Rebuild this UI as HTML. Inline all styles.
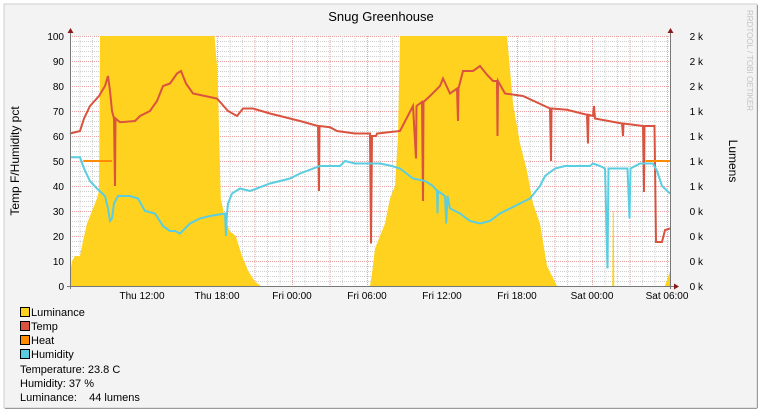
<!DOCTYPE html>
<html><head><meta charset="utf-8"><style>
html,body{margin:0;padding:0;background:#fff;}
svg{display:block;font-family:"Liberation Sans",sans-serif;}
</style></head><body>
<svg id="chart" width="762" height="419" viewBox="0 0 762 419">
<rect x="0" y="0" width="762" height="419" fill="#ffffff"/>
<rect x="4" y="4" width="753" height="404" fill="#f3f3f3" stroke="#cfcfcf" stroke-width="1"/>
<line x1="5" y1="408.5" x2="757" y2="408.5" stroke="#9a9a9a"/>
<line x1="757.5" y1="5" x2="757.5" y2="408" stroke="#9a9a9a"/>
<text x="381" y="21" font-size="13" text-anchor="middle" fill="#000">Snug Greenhouse</text>
<text transform="translate(19,161) rotate(-90)" font-size="12" text-anchor="middle">Temp F/Humidity pct</text>
<text transform="translate(729,161) rotate(90)" font-size="12" text-anchor="middle">Lumens</text>
<text transform="translate(747,10) rotate(90)" font-size="8" fill="#c4c4c4">RRDTOOL / TOBI OETIKER</text>
<rect x="70" y="36" width="600" height="250" fill="#ffffff"/>
<g id="grid"></g>
<g id="marks"></g>
<g id="axes"></g>
<g id="legend" font-size="11">
<rect x="20.5" y="307.5" width="9" height="9" fill="#ffd21f" stroke="#000"/>
<text x="31" y="316">Luminance</text>
<rect x="20.5" y="321.5" width="9" height="9" fill="#d9533f" stroke="#000"/>
<text x="31" y="330">Temp</text>
<rect x="20.5" y="335.5" width="9" height="9" fill="#ff8c00" stroke="#000"/>
<text x="31" y="344">Heat</text>
<rect x="20.5" y="349.5" width="9" height="9" fill="#5bcde0" stroke="#000"/>
<text x="31" y="358">Humidity</text>
<text x="20" y="373">Temperature: 23.8 C</text>
<text x="20" y="387">Humidity: 37 %</text>
<text x="20" y="401" xml:space="preserve">Luminance:    44 lumens</text>
</g>
</svg>
<script>
// hours since Thu 00:00
const xLabels = ["Thu 12:00","Thu 18:00","Fri 00:00","Fri 06:00","Fri 12:00","Fri 18:00","Sat 00:00","Sat 06:00"];
const xLabelHours = [12,18,24,30,36,42,48,54];
const yTicks = [0,10,20,30,40,50,60,70,80,90,100];
const rightTickLabels = ["0 k","0 k","0 k","0 k","1 k","1 k","1 k","1 k","2 k","2 k","2 k"];
const tempHours = [
 6.24,7.04,7.36,7.84,8.56,9.04,9.28,9.44,9.6,9.76,9.84,9.88,
 10.24,11.44,11.84,12.64,13.2,13.68,14.24,14.8,15.12,15.52,16.08,17.04,
 18.0,18.88,19.6,20.08,20.88,22.24,24.64,26.08,26.16,26.2,27.04,27.6,
 29.04,30.24,30.32,30.4,30.72,30.8,32.64,33.68,33.92,33.96,34.4,34.48,
 34.52,35.04,35.84,36.08,36.64,37.2,37.28,37.32,37.68,38.48,39.04,39.6,
 40.08,40.4,40.44,40.48,41.04,42.48,44.64,44.72,44.76,46.0,47.6,47.68,
 47.72,48.08,48.16,48.24,50.4,50.48,50.52,52.08,52.16,52.2,53.0,53.12,
 53.6,53.84,54.24];
const tempValues = [
 61,62,67,72,76,80,84,78,70,67,40,67,
 65.5,66,68,70,74,80,81,85,86,81,77,76,
 75,70,68,71,71,69,66,64,38,64,63.5,62,
 61,61,17,60,60,61,62,72,51,72,73.6,34,
 73.6,76,80,83,77,79,66,79,86,86,88,84.5,
 82,82,60,82,77,76,71,50,71,70.5,68.5,57,
 68.5,68,72,67,65,60,65,64,37.6,64,64,17.6,
 17.6,22.4,23];
const humHours = [
 6.24,7.04,7.36,7.84,8.4,9.04,9.28,9.44,9.6,9.76,10.08,11.04,
 11.68,12.24,13.04,13.68,14.24,14.64,15.04,15.44,15.84,16.64,17.44,18.64,
 18.72,18.8,18.88,19.2,19.84,20.64,22.24,23.84,24.64,26.24,27.84,28.24,
 29.04,30.24,31.04,32.0,32.64,33.68,34.64,35.28,35.6,35.64,35.68,36.24,
 36.34,36.44,36.64,37.44,38.24,39.04,39.84,40.64,41.44,42.24,43.04,43.84,
 44.24,45.04,45.84,47.84,48.08,48.64,49.04,49.24,49.32,50.84,51.0,51.08,
 51.84,52.88,53.2,53.6,54.24];
const humValues = [
 51.5,51.5,47,42,39,36,31,26,27,33,36,36,
 35,30,29,24,22,22,21,23,25,27,28,29,
 20,29,33,37,39,38,41,43,45,48,48,50,
 49,49,49,48,47,43,42,40,38,29,38,36,
 25,36,31,29,26,25,26,29,31,33,35,40,
 44,47,48,48,49,48,47,7,47,47,27,47,
 49,49,46,40,37];
const heatSegments = [[7.3,9.6],[52.3,54.24]];
const heatLevel = 50;
const lumHours = [
 6.24,6.4,6.64,7.04,7.28,7.6,8.0,8.4,8.56,8.64,17.8,18.0,
 18.1,18.3,18.6,19.0,19.5,20.0,20.5,21.0,21.5,30.24,30.4,30.64,
 30.88,31.44,31.84,32.24,32.48,32.64,41.2,41.68,42.24,42.8,43.28,43.84,
 44.4,45.2,49.62,49.66,49.74,49.78,53.84,54.24];
const lumValues = [
 5,10,12,12,18,25,30,35,38,100,100,88,
 75,35,28,22,20,12,6,2,0,0,5,15,
 18,25,35,40,60,100,100,73,57,46,33,25,
 8,0,0,30,30,0,0,6];
const lumAxisMax = 100;

const NS="http://www.w3.org/2000/svg";
const X0=70,X1=670,Y0=286,Y1=36,H0=6.24,H1=54.24;
function xs(h){return X0+(h-H0)*(X1-X0)/(H1-H0);}
function ys(v){return Y0-v*(Y0-Y1)/100;}
function mk(tag,attrs,parent){const e=document.createElementNS(NS,tag);for(const k in attrs)e.setAttribute(k,attrs[k]);parent.appendChild(e);return e;}
const grid=document.getElementById('grid'),marks=document.getElementById('marks'),axes=document.getElementById('axes');

for(let v=0;v<=100;v+=2){
  const major=v%10===0;
  const l=mk('line',{x1:X0,x2:X1,y1:ys(v)+0.5,y2:ys(v)+0.5,stroke:major?'#e8a0a0':'#d0d0d0','stroke-dasharray':'1,1'},grid);
  
  
}
for(let h=Math.ceil(H0);h<=H1;h++){
  const major=h%3===0;
  const l=mk('line',{x1:xs(h)+0.5,x2:xs(h)+0.5,y1:Y1,y2:Y0,stroke:major?'#e8a0a0':'#d0d0d0','stroke-dasharray':'1,1'},grid);
  
  
}

let d='M'+xs(lumHours[0])+','+Y0;
for(let i=0;i<lumHours.length;i++){d+=' L'+xs(lumHours[i])+','+ys(lumValues[i]*100/lumAxisMax);}
d+=' L'+xs(lumHours[lumHours.length-1])+','+Y0+' Z';
const lum=mk('path',{d:d,fill:'#ffd21f'},marks);



function drawLine(hs,vs,color,name){
  let p='M'+xs(hs[0])+','+ys(vs[0]);
  for(let i=1;i<hs.length;i++){p+=' L'+xs(hs[i])+','+ys(vs[i]);}
  const e=mk('path',{d:p,fill:'none',stroke:color,'stroke-width':2,'stroke-linejoin':'miter'},marks);
  
  
}
drawLine(tempHours,tempValues,'#d9533f','temp-line');
heatSegments.forEach(function(s){
  const e=mk('line',{x1:xs(s[0]),x2:xs(s[1]),y1:ys(heatLevel),y2:ys(heatLevel),stroke:'#ff8c00','stroke-width':2},marks);
  
  
});
drawLine(humHours,humValues,'#5bcde0','humidity-line');

const ax=mk('line',{x1:X0+0.5,x2:X0+0.5,y1:Y0+3,y2:Y1-4,stroke:'#777'},axes);


const ar=mk('line',{x1:X1+0.5,x2:X1+0.5,y1:Y0+3,y2:Y1-4,stroke:'#777'},axes);


const bx=mk('line',{x1:X0-3,x2:X1+4,y1:Y0+0.5,y2:Y0+0.5,stroke:'#777'},axes);


[[X0+0.5,Y1-8,X0-2.5,Y1-3,X0+3.5,Y1-3],[X1+0.5,Y1-8,X1-2.5,Y1-3,X1+3.5,Y1-3]].forEach(function(a){
  const t=mk('polygon',{points:a[0]+','+a[1]+' '+a[2]+','+a[3]+' '+a[4]+','+a[5],fill:'#8b1a1a'},axes);
  
  
});
const xa=mk('polygon',{points:(X1+9)+','+(Y0+0.5)+' '+(X1+4)+','+(Y0-2.5)+' '+(X1+4)+','+(Y0+3.5),fill:'#8b1a1a'},axes);


yTicks.forEach(function(v,i){
  const t=mk('text',{x:X0-6,y:ys(v)+4,'font-size':10,'text-anchor':'end'},axes);t.textContent=v;
  
  
  const r=mk('text',{x:X1+33,y:ys(v)+4,'font-size':10,'text-anchor':'end'},axes);r.textContent=rightTickLabels[i];
  
  
});
xLabels.forEach(function(s,i){
  const t=mk('text',{x:xs(xLabelHours[i]),y:Y0+13,'font-size':10,'text-anchor':'middle'},axes);t.textContent=s;
  
  
});
</script>
</body></html>
